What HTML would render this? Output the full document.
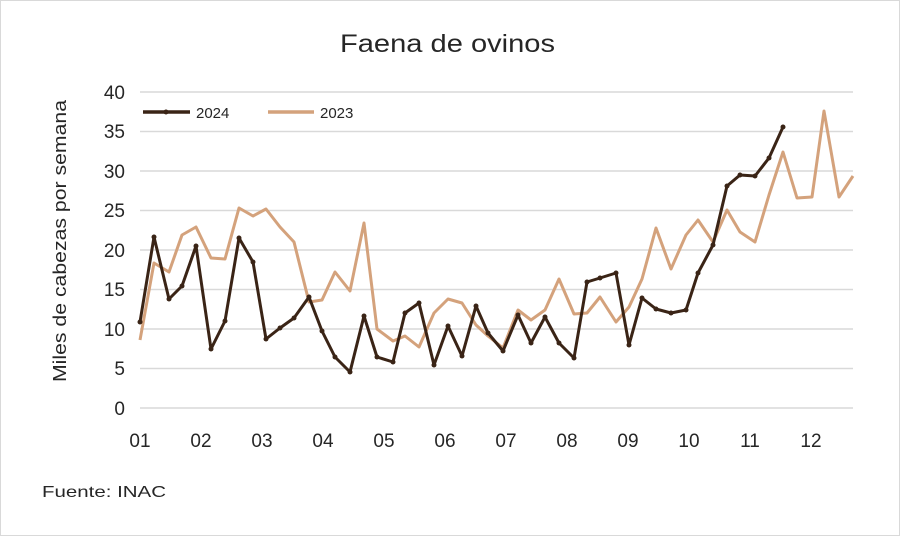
<!DOCTYPE html>
<html><head><meta charset="utf-8"><style>
html,body{margin:0;padding:0;background:#fff}
svg{display:block}
text{font-family:"Liberation Sans",sans-serif;fill:#262626}
</style></head><body>
<svg width="900" height="536" viewBox="0 0 900 536">
<rect x="0.5" y="0.5" width="899" height="535" fill="#fff" stroke="#d9d9d9"/>
<text x="340" y="52" font-size="25" textLength="215" lengthAdjust="spacingAndGlyphs">Faena de ovinos</text>
<g stroke="#d9d9d9" stroke-width="1.5">
<line x1="140" x2="853" y1="92" y2="92"/><line x1="140" x2="853" y1="131.5" y2="131.5"/>
<line x1="140" x2="853" y1="171" y2="171"/><line x1="140" x2="853" y1="210.5" y2="210.5"/>
<line x1="140" x2="853" y1="250" y2="250"/><line x1="140" x2="853" y1="289.5" y2="289.5"/>
<line x1="140" x2="853" y1="329" y2="329"/><line x1="140" x2="853" y1="368.5" y2="368.5"/>
<line x1="140" x2="853" y1="408" y2="408"/>
</g>
<g font-size="19" text-anchor="end">
<text x="125" y="99">40</text><text x="125" y="138">35</text><text x="125" y="178">30</text>
<text x="125" y="217">25</text><text x="125" y="257">20</text><text x="125" y="296">15</text>
<text x="125" y="336">10</text><text x="125" y="375">5</text><text x="125" y="415">0</text>
</g>
<g font-size="19" text-anchor="middle">
<text x="140" y="447">01</text><text x="201" y="447">02</text><text x="262" y="447">03</text>
<text x="323" y="447">04</text><text x="384" y="447">05</text><text x="445" y="447">06</text>
<text x="506" y="447">07</text><text x="567" y="447">08</text><text x="628" y="447">09</text>
<text x="689" y="447">10</text><text x="750" y="447">11</text><text x="811" y="447">12</text>
</g>
<text transform="translate(66,382) rotate(-90)" font-size="18" textLength="282" lengthAdjust="spacingAndGlyphs">Miles de cabezas por semana</text>
<text x="42" y="497" font-size="16" textLength="124" lengthAdjust="spacingAndGlyphs">Fuente: INAC</text>
<line x1="143" y1="112" x2="190" y2="112" stroke="#3a2416" stroke-width="3.5"/>
<circle cx="166" cy="112" r="2.5" fill="#3a2416"/>
<text x="196" y="118" font-size="15">2024</text>
<line x1="268" y1="112" x2="314" y2="112" stroke="#d4a27c" stroke-width="3.5"/>
<text x="320" y="118" font-size="15">2023</text>
<polyline fill="none" stroke="#d4a27c" stroke-width="3" stroke-linejoin="round" points="140,340 154,263 169,272 182,235 196,227 211,258 225,259 239,208 253,216 266,209 280,227 294,242 309,302 322,300 335,272 350,291 364,223 377,329 393,341 405,336 419,347 434,313 448,299 462,303 476,325 488,336 503,348 518,310 531,320 545,310 559,279 574,314 587,313 600,297 616,322 629,307 642,279 656,228 671,269 686,235 698,220 713,242 727,210 740,232 755,242 769,195 783,152 797,198 812,197 824,111 839,197 853,176"/>
<polyline fill="none" stroke="#3a2416" stroke-width="3" stroke-linejoin="round" points="140,322 154,237 169,299 182,286 196,246 211,349 225,321 239,238 253,262 266,339 280,328 294,318 309,297 322,331 335,357 350,372 364,316 377,357 393,362 405,313 419,303 434,365 448,326 462,356 476,306 488,333 503,351 518,315 531,343 545,317 559,343 574,358 587,282 600,278 616,273 629,345 642,298 656,309 671,313 686,310 698,273 713,245 727,186 740,175 755,176 769,158 783,127"/>
<g fill="#3a2416">
<circle cx="140" cy="322" r="2.5"/><circle cx="154" cy="237" r="2.5"/><circle cx="169" cy="299" r="2.5"/><circle cx="182" cy="286" r="2.5"/><circle cx="196" cy="246" r="2.5"/><circle cx="211" cy="349" r="2.5"/><circle cx="225" cy="321" r="2.5"/><circle cx="239" cy="238" r="2.5"/><circle cx="253" cy="262" r="2.5"/><circle cx="266" cy="339" r="2.5"/><circle cx="280" cy="328" r="2.5"/><circle cx="294" cy="318" r="2.5"/><circle cx="309" cy="297" r="2.5"/><circle cx="322" cy="331" r="2.5"/><circle cx="335" cy="357" r="2.5"/><circle cx="350" cy="372" r="2.5"/><circle cx="364" cy="316" r="2.5"/><circle cx="377" cy="357" r="2.5"/><circle cx="393" cy="362" r="2.5"/><circle cx="405" cy="313" r="2.5"/><circle cx="419" cy="303" r="2.5"/><circle cx="434" cy="365" r="2.5"/><circle cx="448" cy="326" r="2.5"/><circle cx="462" cy="356" r="2.5"/><circle cx="476" cy="306" r="2.5"/><circle cx="488" cy="333" r="2.5"/><circle cx="503" cy="351" r="2.5"/><circle cx="518" cy="315" r="2.5"/><circle cx="531" cy="343" r="2.5"/><circle cx="545" cy="317" r="2.5"/><circle cx="559" cy="343" r="2.5"/><circle cx="574" cy="358" r="2.5"/><circle cx="587" cy="282" r="2.5"/><circle cx="600" cy="278" r="2.5"/><circle cx="616" cy="273" r="2.5"/><circle cx="629" cy="345" r="2.5"/><circle cx="642" cy="298" r="2.5"/><circle cx="656" cy="309" r="2.5"/><circle cx="671" cy="313" r="2.5"/><circle cx="686" cy="310" r="2.5"/><circle cx="698" cy="273" r="2.5"/><circle cx="713" cy="245" r="2.5"/><circle cx="727" cy="186" r="2.5"/><circle cx="740" cy="175" r="2.5"/><circle cx="755" cy="176" r="2.5"/><circle cx="769" cy="158" r="2.5"/><circle cx="783" cy="127" r="2.5"/>
</g>
</svg>
</body></html>
